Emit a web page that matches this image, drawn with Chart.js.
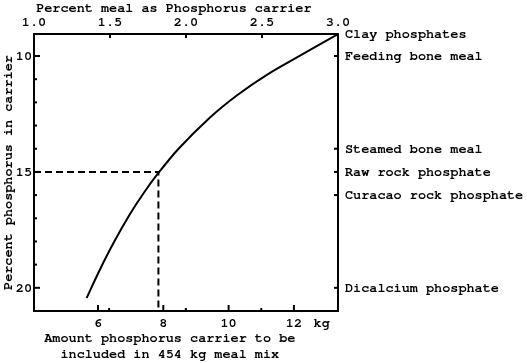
<!DOCTYPE html>
<html>
<head>
<meta charset="utf-8">
<script src="https://cdn.jsdelivr.net/npm/chart.js@4.4.1/dist/chart.umd.min.js"></script>
<style>
  body { margin: 0; background: #fff; }
  canvas { display: block; }
</style>
</head>
<body>
<canvas id="chart" width="527" height="363"></canvas>
<script>
// Curve: kg of carrier vs percent phosphorus in carrier
const kgAmount = [5.65, 6.06, 6.47, 6.98, 7.39, 7.82, 8.46, 9.43, 10.25, 11.16, 12.28, 13.36];
const phosphorusPct = [20.44, 19.21, 18.08, 16.82, 15.93, 15.1, 14.01, 12.65, 11.7, 10.82, 9.91, 9.05];

// Dashed reading guide (15 % -> ~7.8 kg)
const guideKg = 7.85;
const guidePct = 15;

// Axis ticks
const kgTicks = [6, 8, 10, 12];
const kgMinorTicks = [6.34, 8.69, 11.0];
const kgUnitAt = 12.85;
const pctMealTicks = [1.0, 1.5, 2.0, 2.5, 3.0];
const pctCarrierTicks = [10, 11, 12, 13, 14, 15, 16, 17, 18, 19, 20];
const pctCarrierLabeled = [10, 15, 20];

// Carriers on the right axis
const carrierNames = ['Clay phosphates', 'Feeding bone meal', 'Steamed bone meal',
  'Raw rock phosphate', 'Curacao rock phosphate', 'Dicalcium phosphate'];
const carrierPct = [9.05, 10, 14, 15, 16, 20];

const X_MIN = 4.04, X_MAX = 13.35, Y_MIN = 9.05, Y_MAX = 21;

Chart.defaults.font.family = "FreeMono, 'Liberation Mono', monospace";
Chart.defaults.font.size = 13.5;
Chart.defaults.font.weight = 'bold';
Chart.defaults.color = '#000';

// short tick marks drawn inside the frame
const innerTicks = {
  id: 'innerTicks',
  afterDraw(chart) {
    const { ctx, chartArea: a } = chart;
    ctx.save();
    ctx.strokeStyle = '#000';
    ctx.lineWidth = 2;
    Object.values(chart.scales).forEach(scale => {
      scale.ticks.forEach(t => {
        if (t.label === 'kg') return;
        const p = scale.getPixelForValue(t.value);
        let len = t.label ? 6 : 3;
        ctx.beginPath();
        if (scale.position === 'left') { ctx.moveTo(a.left, p); ctx.lineTo(a.left + len, p); }
        if (scale.position === 'right') { ctx.moveTo(a.right, p); ctx.lineTo(a.right - 4, p); }
        if (scale.position === 'top') { ctx.moveTo(p, a.top); ctx.lineTo(p, a.top + 4); }
        if (scale.position === 'bottom') { ctx.moveTo(p, a.bottom); ctx.lineTo(p, a.bottom - len); }
        ctx.stroke();
      });
    });
    ctx.restore();
  }
};

const border = { display: true, color: '#000', width: 2 };
const grid = { drawOnChartArea: false, drawTicks: false };

new Chart(document.getElementById('chart'), {
  type: 'line',
  data: {
    datasets: [
      {
        data: kgAmount.map((x, i) => ({ x, y: phosphorusPct[i] })),
        borderColor: '#000',
        borderWidth: 2,
        pointRadius: 0,
        tension: 0.3,
        xAxisID: 'x',
        yAxisID: 'y'
      },
      {
        data: [{ x: X_MIN, y: guidePct }, { x: guideKg, y: guidePct }, { x: guideKg, y: Y_MAX }],
        borderColor: '#000',
        borderWidth: 2,
        borderDash: [7, 4],
        pointRadius: 0,
        tension: 0,
        xAxisID: 'x',
        yAxisID: 'y'
      }
    ]
  },
  plugins: [innerTicks],
  options: {
    responsive: false,
    animation: false,
    layout: { padding: 0 },
    plugins: { legend: { display: false }, tooltip: { enabled: false } },
    scales: {
      x: {
        type: 'linear', position: 'bottom', min: X_MIN, max: X_MAX,
        border, grid,
        afterBuildTicks: s => { s.ticks = [...kgTicks, ...kgMinorTicks, kgUnitAt].map(v => ({ value: v })); },
        afterFit: s => { s.height = 52; },
        ticks: {
          autoSkip: false, maxRotation: 0, padding: 4,
          callback: v => v === kgUnitAt ? 'kg' : (kgTicks.includes(v) ? String(v) : '')
        },
        title: {
          display: true,
          // trailing spaces nudge the centred title left, as in the original
          text: ['Amount phosphorus carrier to be    ', 'included in 454 kg meal mix    '],
          font: { lineHeight: 1.2 },
          padding: { top: 0, bottom: 1 }
        }
      },
      x2: {
        type: 'linear', position: 'top', min: 1, max: 3,
        border, grid,
        afterBuildTicks: s => { s.ticks = pctMealTicks.map(v => ({ value: v })); },
        afterFit: s => { s.height = 34; },
        ticks: { autoSkip: false, maxRotation: 0, padding: 4, callback: v => v.toFixed(1) },
        title: {
          display: true, text: 'Percent meal as Phosphorus carrier   ',
          font: { lineHeight: 1.2 }, padding: { top: 0, bottom: 0 }
        }
      },
      y: {
        type: 'linear', position: 'left', reverse: true, min: Y_MIN, max: Y_MAX,
        border, grid,
        afterBuildTicks: s => { s.ticks = pctCarrierTicks.map(v => ({ value: v })); },
        afterFit: s => { s.width = 34; },
        ticks: {
          autoSkip: false, padding: 2,
          callback: v => pctCarrierLabeled.includes(v) ? String(v) : ''
        },
        title: {
          display: true, text: 'Percent phosphorus in carrier',
          font: { lineHeight: 1.2 }, padding: { top: 0, bottom: 0 }
        }
      },
      y2: {
        type: 'linear', position: 'right', reverse: true, min: Y_MIN, max: Y_MAX,
        border, grid,
        afterBuildTicks: s => { s.ticks = carrierPct.map(v => ({ value: v })); },
        afterFit: s => { s.width = 189; },
        ticks: {
          autoSkip: false, padding: 7,
          callback: (v, i) => carrierNames[i]
        }
      }
    }
  }
});
</script>
</body>
</html>
